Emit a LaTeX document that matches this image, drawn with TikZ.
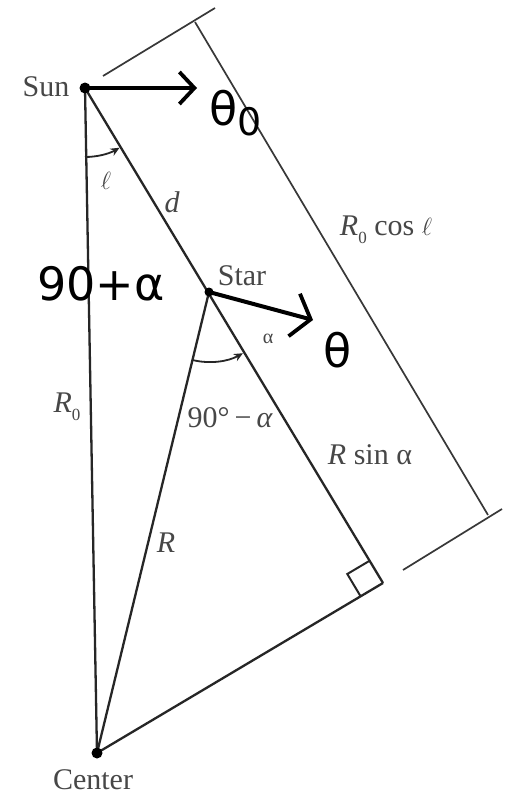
\documentclass[tikz,border=0pt]{standalone}
\usepackage{fontspec}
\setmainfont{Liberation Serif}
\newfontfamily\bigsans{DejaVu Sans}
\usetikzlibrary{arrows.meta}
\begin{document}
\begin{tikzpicture}[x=1pt,y=-1pt,
  geo/.style={line width=2.3pt, black!85},
  dim/.style={line width=1.7pt, black!78},
  vec/.style={line width=4pt, black},
  angarc/.style={line width=1.8pt, black!85, -{Stealth[length=9pt,width=8pt]}},
  lbl/.style={font=\fontsize{30}{34}\selectfont, text=black!72, inner sep=0pt},
  slbl/.style={font=\fontsize{20}{22}\selectfont, text=black!72, inner sep=0pt},
  big/.style={font=\bigsans\fontsize{46}{50}\selectfont, text=black, inner sep=0pt},
  dot/.style={circle, fill=black, inner sep=0pt}]
\useasboundingbox (0,0) rectangle (510,795);
\fill[white] (0,0) rectangle (510,795);
% points
\coordinate (Sun) at (85,88);
\coordinate (Star) at (209,292);
\coordinate (Center) at (97,753);
\coordinate (Corner) at (383,583);
\coordinate (SqA) at (369.7,560.7);
\coordinate (SqB) at (347.3,574.0);
\coordinate (SqC) at (360.6,596.3);
% dimension line
\coordinate (DimTop) at (195,22);
\coordinate (DimBot) at (488,515);
\coordinate (TickTopA) at (103,76);
\coordinate (TickTopB) at (215,8);
\coordinate (TickBotA) at (403,570);
\coordinate (TickBotB) at (502,509);
% arrow tips
\coordinate (ThetaZeroTip) at (197,88);
\coordinate (ThetaTip) at (313,320);

% triangle lines
\draw[geo] (Sun) -- (Center);
\draw[geo] (Sun) -- (Corner);
\draw[geo] (Star) -- (Center);
\draw[geo] (Center) -- (Corner);
\draw[geo, line width=2pt] (SqA) -- (SqB) -- (SqC);
% dimension
\draw[dim] (DimTop) -- (DimBot);
\draw[dim] (TickTopA) -- (TickTopB);
\draw[dim] (TickBotA) -- (TickBotB);
% angle arcs
\draw[angarc] (Sun) ++(90:69) arc[start angle=90, end angle=60, radius=69];
\draw[angarc] (Star) ++(103.7:70) arc[start angle=103.7, end angle=61, radius=70];
% vectors
\draw[vec, -{Straight Barb[length=15pt,width=32pt,line width=3.8pt]}] (Sun) -- (ThetaZeroTip);
\draw[vec, -{Straight Barb[length=17pt,width=44pt,line width=3.8pt]}] (Star) -- (ThetaTip);
% dots
\node[dot, minimum size=11pt] (SunDot) at (Sun) {};
\node[dot, minimum size=9pt] (StarDot) at (Star) {};
\node[dot, minimum size=11pt] (CenterDot) at (Center) {};
% labels
\node[lbl] (lSun) at (46,87) {Sun};
\node[lbl] (lStar) at (242,276) {Star};
\node[lbl] (lCenter) at (93,780) {Center};
\node[lbl] (ld) at (172,202) {\itshape d};
\node[lbl] (lell) at (106,181) {$\ell$};
\node[lbl] (lRzero) at (67,407) {\itshape R\/\raisebox{-0.25em}{\upshape\fontsize{17}{17}\selectfont 0}};
\node[lbl] (lR) at (166,543) {\itshape R};
\node[slbl] (lalpha) at (268,339) {α};
\node[lbl] (lninety) at (230,418) {90°\,−\,\itshape α};
\node[lbl] (lRsin) at (370,455) {\itshape R\/\upshape{} sin α};
\node[lbl] (lRcos) at (386,230) {\itshape R\/\raisebox{-0.25em}{\upshape\fontsize{17}{17}\selectfont 0}\upshape{} cos $\ell$};
\node[big, anchor=base west] (lninetyalpha) at (37,300) {90+α};
\node[big, anchor=base west] (ltheta) at (323,367) {θ};
\node[big, anchor=base west] (lthetazero) at (209,125) {θ\raisebox{-10pt}{\fontsize{38}{40}\selectfont 0}};
\end{tikzpicture}
\end{document}
